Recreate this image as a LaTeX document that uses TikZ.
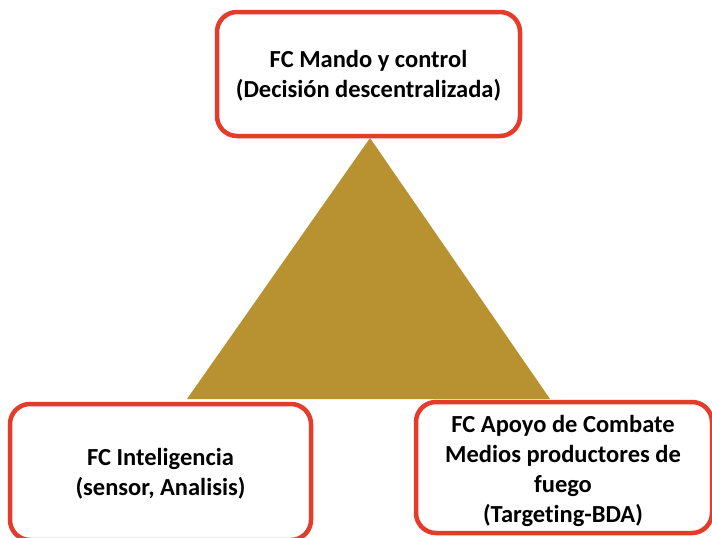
\documentclass[tikz,border=0pt]{standalone}
\usepackage{fontspec}
\setmainfont{Carlito}[Ligatures=NoCommon]
\definecolor{boxred}{HTML}{E63A2B}
\definecolor{gold}{HTML}{B89231}
\begin{document}
\begin{tikzpicture}[x=1pt,y=-1pt,
  fcbox/.style={draw=boxred,line width=4.5pt,rounded corners=20pt,fill=white},
  fctext/.style={align=center,font=\bfseries\fontsize{24.5}{30}\selectfont,text=black}]
\useasboundingbox (0,0) rectangle (712,538);
\fill[gold] (370,138) -- (187,399) -- (550,399) -- cycle;
\draw[fcbox] (217,12) rectangle (520,136);
\draw[fcbox] (10,404) rectangle (311,540);
\draw[fcbox] (416,402) rectangle (712,533);
\node[fctext] (top) at (368.5,76) {FC Mando y control\\(Decisión descentralizada)};
\node[fctext] (left) at (160.5,474) {FC Inteligencia\\(sensor, Analisis)};
\node[fctext] (right) at (563,470.5) {FC Apoyo de Combate\\Medios productores de\\fuego\\(Targeting-BDA)};
\end{tikzpicture}
\end{document}
